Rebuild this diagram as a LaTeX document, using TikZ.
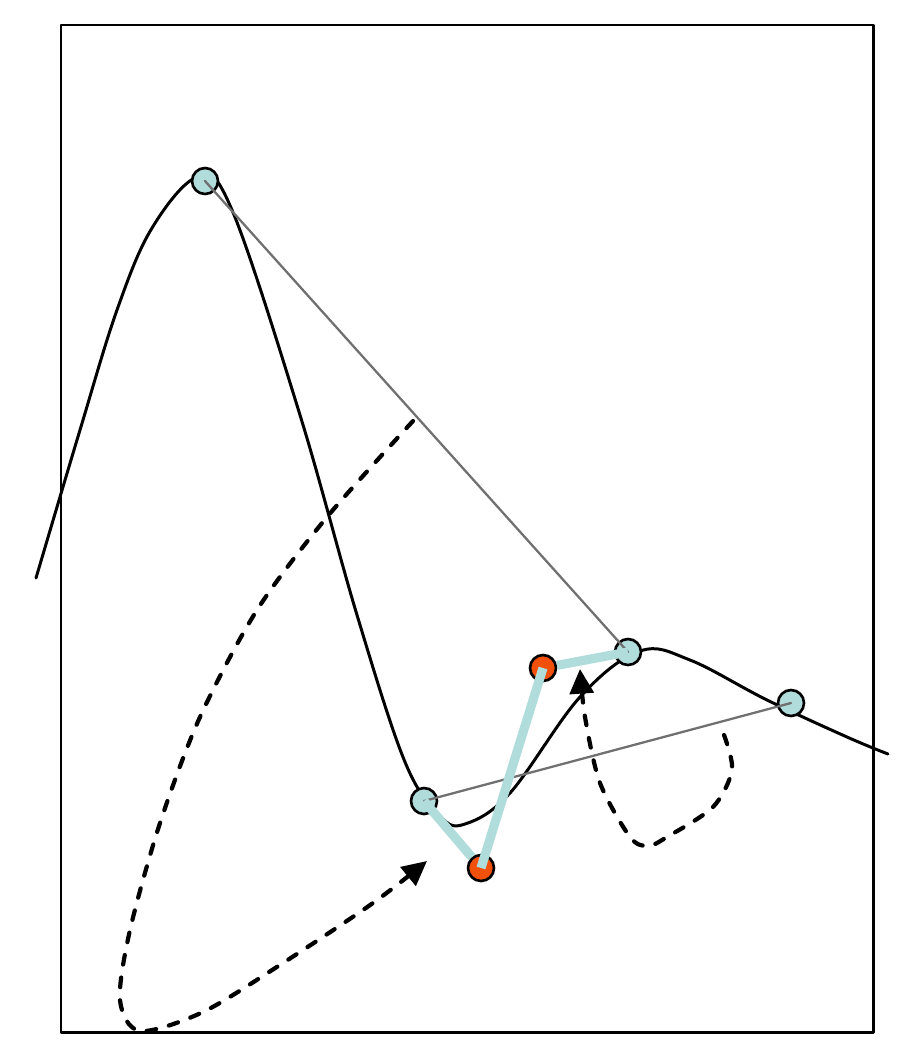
\documentclass[tikz,border=0pt]{standalone}
\usetikzlibrary{arrows.meta}
\definecolor{knotfill}{RGB}{176,220,220}
\definecolor{handfill}{RGB}{240,80,10}
\definecolor{chordgray}{RGB}{112,112,112}
\begin{document}
\begin{tikzpicture}[x=0.02cm, y=-0.02cm, line join=round, line cap=round,
	>={Triangle[length=14pt,width=13.5pt]},
	pt/.style={circle, draw=black, line width=1.5pt, minimum size=0.52cm, inner sep=0pt},
	knotpt/.style={pt, fill=knotfill},
	handpt/.style={pt, fill=handfill},
	curve/.style={line width=1.7pt},
	chordline/.style={chordgray, line width=1.3pt},
	arm/.style={knotfill, line width=5.2pt, line cap=butt},
	move/.style={line width=2.4pt, dash pattern=on 5.5pt off 7.5pt}]
	\useasboundingbox (0,0) rectangle (916,1062);
	\draw[line width=1.7pt, line cap=butt] (61,25) rectangle (873,1032);
	% the curve
	\draw[curve] plot[smooth, tension=0.6] coordinates {(36,578) (80,430) (117,310) (152,228) (198,177) (232,210) (300,415) (357,615) (405,762) (440,816) (465,824) (510,793) (580,697) (640,651) (690,660) (767,700) (847,737) (888,754)};
	% points
	\node[knotpt] (p1) at (205,181) {};
	\node[knotpt] (p2) at (424,801) {};
	\node[knotpt] (p3) at (628,652) {};
	\node[knotpt] (p4) at (791,703) {};
	\node[handpt] (q1) at (481,868) {};
	\node[handpt] (q2) at (543,668) {};
	% chords and arms
	\draw[chordline] (p1.center) -- (p3.center);
	\draw[chordline] (p2.center) -- (p4.center);
	\draw[arm] (p2.center) -- (q1);
	\draw[arm] (q1.center) -- (q2.center);
	\draw[arm] (q2) -- (p3.center);
	% moves
	\draw[move, ->] plot[smooth] coordinates {(413,421) (327,517) (257,610) (200,717) (160,823) (130,930) (120,1000) (140,1031) (203,1012) (283,963) (373,903) (427,861)};
	\draw[move, ->] plot[smooth] coordinates {(724,735) (732,770) (713,807) (667,837) (648,846) (630,837) (600,783) (585,717) (580,669)};
\end{tikzpicture}
\end{document}
